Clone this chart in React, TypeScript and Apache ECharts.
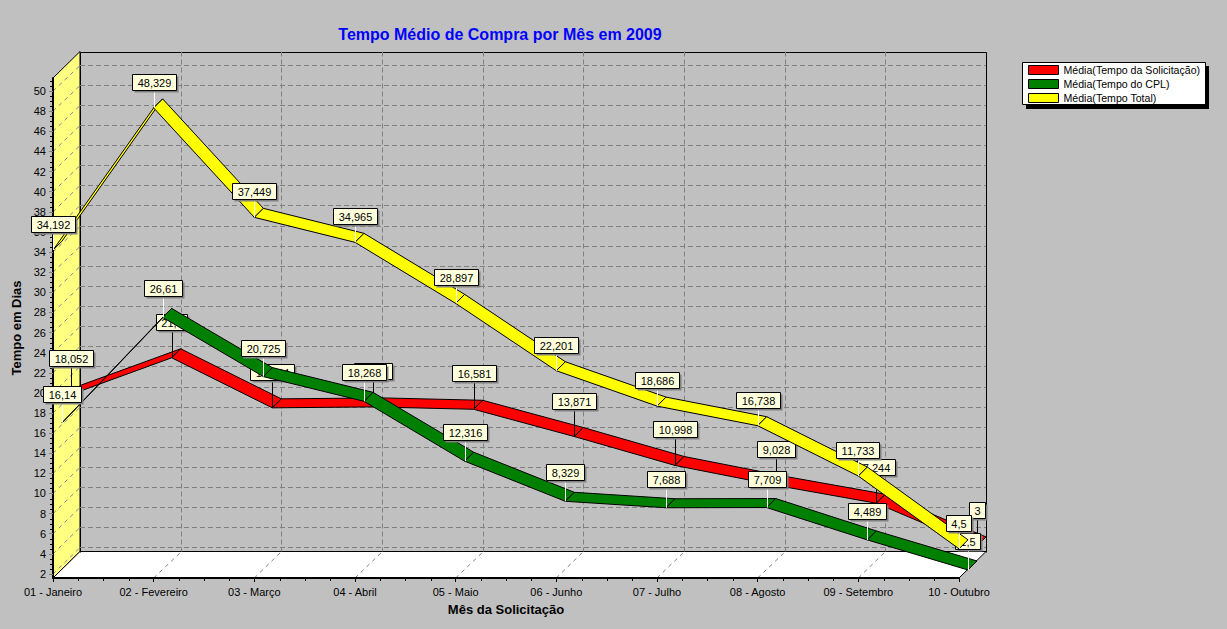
import React, { useEffect, useRef } from "react";
import * as echarts from "echarts";

const categories = [
  "01 - Janeiro", "02 - Fevereiro", "03 - Março", "04 - Abril", "05 - Maio",
  "06 - Junho", "07 - Julho", "08 - Agosto", "09 - Setembro", "10 - Outubro",
];
const tempoSolicitacao = [18.052, 21.7, 16.724, 16.82, 16.581, 13.871, 10.998, 9.028, 7.244, 3];
const tempoCpl = [16.14, 26.61, 20.725, 18.268, 12.316, 8.329, 7.688, 7.709, 4.489, 1.5];
const tempoTotal = [34.192, 48.329, 37.449, 34.965, 28.897, 22.201, 18.686, 16.738, 11.733, 4.5];
const yTicks = [2, 4, 6, 8, 10, 12, 14, 16, 18, 20, 22, 24, 26, 28, 30, 32, 34, 36, 38, 40, 42, 44, 46, 48, 50];

const Y_MIN = 1.6;
const Y_MAX = 51.3;
const DEPTH = [27, -26.5];
const RIBBON = [9, -9];
const FONT = '"Liberation Sans", Arial, sans-serif';
const WALL_FILL = "#ffff80";
const LABEL_FILL = "#ffffdc";

const seriesDefs = [
  { name: "Média(Tempo da Solicitação)", values: tempoSolicitacao, color: "#ff0000", slot: 2, lift: 36, leader: "#000000" },
  { name: "Média(Tempo do CPL)", values: tempoCpl, color: "#008000", slot: 1, lift: 29, leader: "#ffffff" },
  { name: "Média(Tempo Total)", values: tempoTotal, color: "#ffff00", slot: 0, lift: 26, leader: "#ffffff" },
];

function textWidth(text: string) {
  const ctx = document.createElement("canvas").getContext("2d")!;
  ctx.font = `11px ${FONT}`;
  return ctx.measureText(text).width;
}

const crisp = (v: number) => Math.round(v) + 0.5;

function line(x1: number, y1: number, x2: number, y2: number, stroke: string, extra: any = {}) {
  return { type: "line", shape: { x1, y1, x2, y2 }, style: { stroke, lineWidth: 1, ...extra } };
}

export default function App() {
  const ref = useRef<HTMLDivElement>(null);

  useEffect(() => {
    const chart = echarts.init(ref.current!, undefined, { renderer: "svg" });
    const dash = { lineDash: [5, 3] };
    const diag = { lineDash: [4, 4] };
    const last = categories.length - 1;

    const renderWalls = (_p: any, api: any) => {
      const fl = api.coord([0, Y_MIN]);
      const ft = api.coord([0, Y_MAX]);
      const fr = api.coord([last, Y_MIN]);
      const bl = [fl[0] + DEPTH[0], fl[1] + DEPTH[1]];
      const bt = [ft[0] + DEPTH[0], ft[1] + DEPTH[1]];
      const br = [fr[0] + DEPTH[0], fr[1] + DEPTH[1]];
      const children: any[] = [
        {
          type: "polygon",
          shape: { points: [fl, bl, bt, ft] },
          style: { fill: WALL_FILL, stroke: "#000", lineWidth: 1 },
        },
        {
          type: "polygon",
          shape: { points: [fl, bl, br, fr] },
          style: { fill: "#ffffff", stroke: "#000", lineWidth: 1 },
        },
        {
          type: "polyline",
          shape: { points: [[crisp(bl[0]), crisp(bl[1])], [crisp(bt[0]), crisp(bt[1])], [crisp(br[0]), crisp(bt[1])], [crisp(br[0]), crisp(br[1])]] },
          style: { fill: "none", stroke: "#000", lineWidth: 1 },
        },
      ];
      yTicks.forEach((v) => {
        const p = api.coord([0, v]);
        const q = api.coord([last, v]);
        const y = crisp(p[1] + DEPTH[1]);
        children.push(line(p[0] + DEPTH[0], y, q[0] + DEPTH[0], y, "#808080", dash));
        children.push(line(p[0], p[1], p[0] + DEPTH[0], y, "#8080a0", diag));
      });
      categories.forEach((_c, i) => {
        const p = api.coord([i, Y_MIN]);
        const t = api.coord([i, Y_MAX]);
        const x = crisp(p[0] + DEPTH[0]);
        if (i > 0 && i < last) children.push(line(x, t[1] + DEPTH[1], x, p[1] + DEPTH[1], "#808080", dash));
        if (i > 0 && i < last) children.push(line(p[0], p[1], x, p[1] + DEPTH[1], "#808080", diag));
        if (i < last) {
          const n = api.coord([i + 1, Y_MIN]);
          [0.25, 0.5, 0.75].forEach((f) => {
            const mx = crisp(p[0] + (n[0] - p[0]) * f);
            children.push(line(mx, p[1], mx, p[1] + 3, "#000"));
          });
        }
      });
      for (let k = 0; k <= 24; k++) {
        [0.5, 1, 1.5].forEach((f) => {
          const v = 2 + 2 * k + f;
          if (v < Y_MAX) {
            const p = api.coord([0, v]);
            children.push(line(p[0] - 3, crisp(p[1]), p[0], crisp(p[1]), "#000"));
          }
        });
      }
      return { type: "group", children };
    };

    const pointOf = (api: any, i: number, v: number, slot: number) => {
      const p = api.coord([i, v]);
      return [p[0] + RIBBON[0] * slot, p[1] + RIBBON[1] * slot];
    };

    const makeRibbon = (def: any) => (params: any, api: any) => {
      const i = params.dataIndex;
      if (i >= def.values.length - 1) return undefined;
      const a = pointOf(api, i, api.value(1), def.slot);
      const b = pointOf(api, i + 1, def.values[i + 1], def.slot);
      return {
        type: "polygon",
        shape: {
          points: [a, b, [b[0] + RIBBON[0], b[1] + RIBBON[1]], [a[0] + RIBBON[0], a[1] + RIBBON[1]]],
        },
        style: { fill: def.color, stroke: "#000", lineWidth: 1 },
      };
    };

    const makeLabel = (def: any) => (params: any, api: any) => {
      const i = params.dataIndex;
      const v = api.value(1);
      const p = pointOf(api, i, v, def.slot);
      const text = String(v).replace(".", ",");
      const w = Math.round(textWidth(text)) + 10;
      const h = 16;
      const cx = Math.round(p[0]);
      const cy = Math.round(p[1] - def.lift);
      const x = cx - Math.round(w / 2) + 0.5;
      const y = cy - h / 2 + 0.5;
      return {
        type: "group",
        children: [
          line(cx + 0.5, y + h, cx + 0.5, p[1], def.leader),
          { type: "rect", shape: { x: x + 2, y: y + 2, width: w, height: h }, style: { fill: "#808080", stroke: "none" } },
          { type: "rect", shape: { x, y, width: w, height: h }, style: { fill: LABEL_FILL, stroke: "#000", lineWidth: 1 } },
          {
            type: "text",
            style: { text, x: x + w / 2, y: y + h / 2 + 0.5, align: "center", verticalAlign: "middle", font: `11px ${FONT}`, fill: "#000" },
          },
        ],
      };
    };

    const series: any[] = [
      {
        type: "custom",
        name: "paredes",
        silent: true,
        z: 1,
        renderItem: renderWalls,
        data: [[0, Y_MIN]],
      },
    ];
    seriesDefs.forEach((def, n) => {
      const data = def.values.map((v, i) => [i, v]);
      series.push({
        type: "custom",
        name: def.name,
        silent: true,
        z: 3 + n * 2,
        itemStyle: { color: def.color },
        renderItem: makeRibbon(def),
        data,
      });
      series.push({
        type: "custom",
        name: def.name + " rótulos",
        silent: true,
        z: 4 + n * 2,
        renderItem: makeLabel(def),
        data,
      });
    });

    chart.setOption({
      animation: false,
      backgroundColor: "#c0c0c0",
      textStyle: { fontFamily: FONT },
      title: {
        text: "Tempo Médio de Compra por Mês em 2009",
        left: 495,
        top: 21,
        textAlign: "center",
        textStyle: { color: "#0000ff", fontSize: 16, fontWeight: "bold", fontFamily: FONT },
      },
      graphic: [
        { type: "rect", z: 0, shape: { x: 1026, y: 66, width: 183, height: 43 }, style: { fill: "#000" } },
        { type: "rect", z: 0, shape: { x: 1022.5, y: 62.5, width: 183, height: 42 }, style: { fill: "#fff", stroke: "#000", lineWidth: 1 } },
      ],
      legend: {
        left: 1028,
        top: 64,
        orient: "vertical",
        padding: 0,
        itemWidth: 30,
        itemHeight: 9,
        itemGap: 2,
        selectedMode: false,
        icon: "rect",
        textStyle: { fontSize: 10.6, color: "#000", fontFamily: FONT, lineHeight: 12 },
        data: seriesDefs.map((d) => ({
          name: d.name,
          itemStyle: { color: d.color, borderColor: "#000", borderWidth: 1 },
        })),
      },
      grid: { left: 53, top: 78, width: 906, height: 500 },
      xAxis: {
        type: "category",
        data: categories,
        boundaryGap: false,
        z: 2,
        name: "Mês da Solicitação",
        nameLocation: "middle",
        nameGap: 25,
        nameTextStyle: { fontSize: 13, fontWeight: "bold", color: "#000", fontFamily: FONT },
        axisLine: { onZero: false, lineStyle: { color: "#000", width: 2 } },
        axisTick: { show: true, length: 4, lineStyle: { color: "#000" }, alignWithLabel: true, interval: 0 },
        axisLabel: { interval: 0, margin: 8, fontSize: 11, color: "#000", fontFamily: FONT, hideOverlap: false },
        splitLine: { show: false },
      },
      yAxis: {
        type: "value",
        min: Y_MIN,
        max: Y_MAX,
        z: 2,
        name: "Tempo em Dias",
        nameLocation: "middle",
        nameGap: 24,
        nameTextStyle: { fontSize: 13, fontWeight: "bold", color: "#000", fontFamily: FONT },
        axisLine: { show: true, lineStyle: { color: "#000", width: 2 } },
        axisTick: { show: true, length: 4, lineStyle: { color: "#808080" }, customValues: yTicks },
        axisLabel: { margin: 7, fontSize: 11, color: "#000", fontFamily: FONT, customValues: yTicks, showMinLabel: true, showMaxLabel: true },
        splitLine: { show: false },
      },
      series,
    });
    return () => chart.dispose();
  }, []);

  return <div ref={ref} style={{ position: "fixed", left: 0, top: 0, width: 1227, height: 629 }} />;
}
